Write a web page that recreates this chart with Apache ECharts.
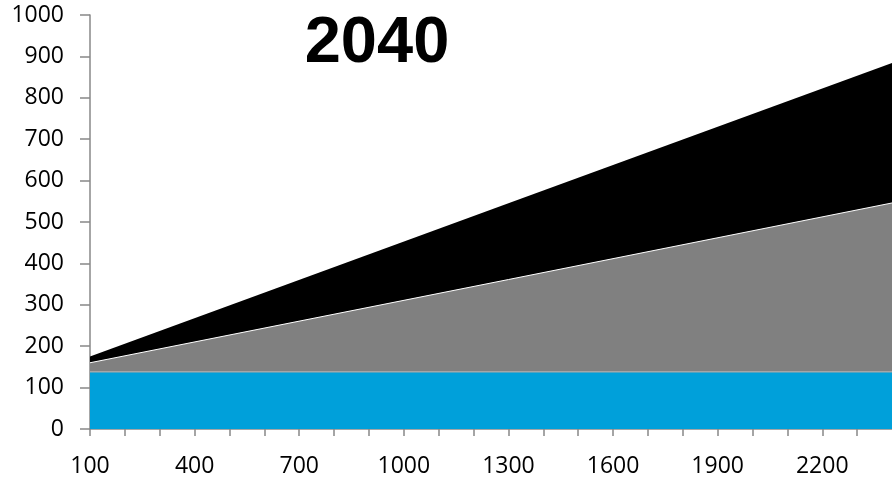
<!DOCTYPE html>
<html>
<head>
<meta charset="utf-8">
<script src="https://cdn.jsdelivr.net/npm/echarts@6/dist/echarts.min.js"></script>
<style>
html,body{margin:0;padding:0;background:#fff;}
#c{width:892px;height:480px;}
</style>
</head>
<body>
<div id="c"></div>
<script>
// Data
var title = '2040';
var xValues = [100, 1300, 2400];
var blueValues = [138, 138, 138];
var grayValues = [22, 223, 408];
var blackValues = [15, 184, 338];
var xLabelStep = 300;

// stacked tops (each area is filled down to the axis, drawn back to front)
function cumulative(lists){
  return xValues.map(function(x,i){
    var s = 0; lists.forEach(function(l){ s += l[i]; }); return [x, s];
  });
}

var chart = echarts.init(document.getElementById('c'), null, {renderer:'canvas'});
var fontFam = '"Open Sans", sans-serif';
chart.setOption({
  animation:false,
  backgroundColor:'#fff',
  title:{
    text:title, left:372, top:7, textAlign:'center', z:10,
    textStyle:{fontFamily:'"Liberation Sans", Arial, sans-serif', fontWeight:'bold', fontSize:65, color:'#000'}
  },
  grid:{left:90, top:15, bottom:51, width:805, containLabel:false},
  xAxis:{
    type:'value', min:100, max:2400, interval:100,
    axisLine:{show:true, onZero:false, lineStyle:{color:'#888', width:1.5}},
    axisTick:{show:true, length:7, lineStyle:{color:'#888', width:1.5}},
    splitLine:{show:false},
    axisLabel:{
      margin:26, fontFamily:fontFam, fontSize:23, color:'#000',
      showMaxLabel:false,
      formatter:function(v){ return ((v-100) % xLabelStep === 0) ? String(v) : ''; }
    }
  },
  yAxis:{
    type:'value', min:0, max:1000, interval:100,
    axisLine:{show:true, lineStyle:{color:'#888', width:1.5}},
    axisTick:{show:true, length:10, lineStyle:{color:'#888', width:1.5}},
    splitLine:{show:false},
    axisLabel:{margin:26, fontFamily:fontFam, fontSize:23, color:'#000',
      formatter:function(v){ return String(v); }}
  },
  series:[
    {type:'line', symbol:'none', data:cumulative([blueValues, grayValues, blackValues]),
     lineStyle:{width:0, color:'#000'}, areaStyle:{color:'#000000', opacity:1}, z:1},
    {type:'line', symbol:'none', data:cumulative([blueValues, grayValues]),
     lineStyle:{color:'#ffffff', width:1}, areaStyle:{color:'#808080', opacity:1}, z:2},
    {type:'line', symbol:'none', data:cumulative([blueValues]),
     lineStyle:{color:'#a6a6a6', width:1.5}, areaStyle:{color:'#00a0da', opacity:1}, z:3}
  ]
});
</script>
</body>
</html>
